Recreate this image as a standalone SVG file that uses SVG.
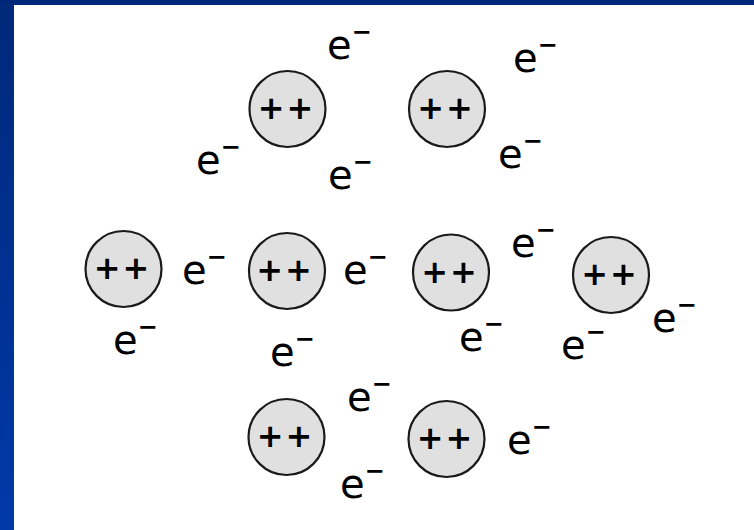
<svg xmlns="http://www.w3.org/2000/svg" width="754" height="530" viewBox="0 0 754 530">
<defs>
<linearGradient id="bg" x1="0" y1="0" x2="0" y2="1">
<stop offset="0" stop-color="#00287a"/>
<stop offset="1" stop-color="#0039a8"/>
</linearGradient>
<style>
.ion{fill:#e0e0e0;stroke:#1a1a1a;stroke-width:2.2}
.pp{font-family:"DejaVu Sans",Verdana,sans-serif;font-size:32px;font-weight:bold;fill:#000;text-anchor:middle;letter-spacing:2px}
.e{font-family:"DejaVu Sans",Verdana,sans-serif;font-size:40px;fill:#000}
.m{font-size:24px;font-weight:bold}
</style>
</defs>
<rect x="0" y="0" width="754" height="530" fill="url(#bg)"/>
<rect x="0" y="0" width="754" height="5" fill="#00287a"/>
<rect x="14" y="5" width="740" height="525" fill="#ffffff"/>
<g id="ion1"><circle class="ion" cx="287.5" cy="109" r="38"/><text class="pp" x="286.5" y="119">++</text></g>
<g id="ion2"><circle class="ion" cx="447" cy="109" r="38"/><text class="pp" x="446" y="119">++</text></g>
<g id="ion3"><circle class="ion" cx="123.5" cy="269" r="38"/><text class="pp" x="122.5" y="279">++</text></g>
<g id="ion4"><circle class="ion" cx="287" cy="271" r="38"/><text class="pp" x="285" y="281">++</text></g>
<g id="ion5"><circle class="ion" cx="451" cy="272.5" r="38"/><text class="pp" x="450" y="282.5">++</text></g>
<g id="ion6"><circle class="ion" cx="611" cy="275" r="38"/><text class="pp" x="610" y="285">++</text></g>
<g id="ion7"><circle class="ion" cx="286.5" cy="437" r="38"/><text class="pp" x="285.5" y="447">++</text></g>
<g id="ion8"><circle class="ion" cx="446.5" cy="439" r="38"/><text class="pp" x="445.5" y="449">++</text></g>
<g id="electrons">
<text class="e" x="327" y="59">e<tspan class="m" dy="-19">−</tspan></text>
<text class="e" x="513" y="72">e<tspan class="m" dy="-19">−</tspan></text>
<text class="e" x="196" y="174">e<tspan class="m" dy="-19">−</tspan></text>
<text class="e" x="328" y="189">e<tspan class="m" dy="-19">−</tspan></text>
<text class="e" x="498" y="168">e<tspan class="m" dy="-19">−</tspan></text>
<text class="e" x="182" y="284">e<tspan class="m" dy="-19">−</tspan></text>
<text class="e" x="113" y="354">e<tspan class="m" dy="-19">−</tspan></text>
<text class="e" x="270" y="366">e<tspan class="m" dy="-19">−</tspan></text>
<text class="e" x="343" y="284">e<tspan class="m" dy="-19">−</tspan></text>
<text class="e" x="511" y="257">e<tspan class="m" dy="-19">−</tspan></text>
<text class="e" x="459" y="351">e<tspan class="m" dy="-19">−</tspan></text>
<text class="e" x="561" y="359">e<tspan class="m" dy="-19">−</tspan></text>
<text class="e" x="652" y="332">e<tspan class="m" dy="-19">−</tspan></text>
<text class="e" x="347" y="411">e<tspan class="m" dy="-19">−</tspan></text>
<text class="e" x="340" y="498">e<tspan class="m" dy="-19">−</tspan></text>
<text class="e" x="507" y="454">e<tspan class="m" dy="-19">−</tspan></text>
</g>
</svg>
